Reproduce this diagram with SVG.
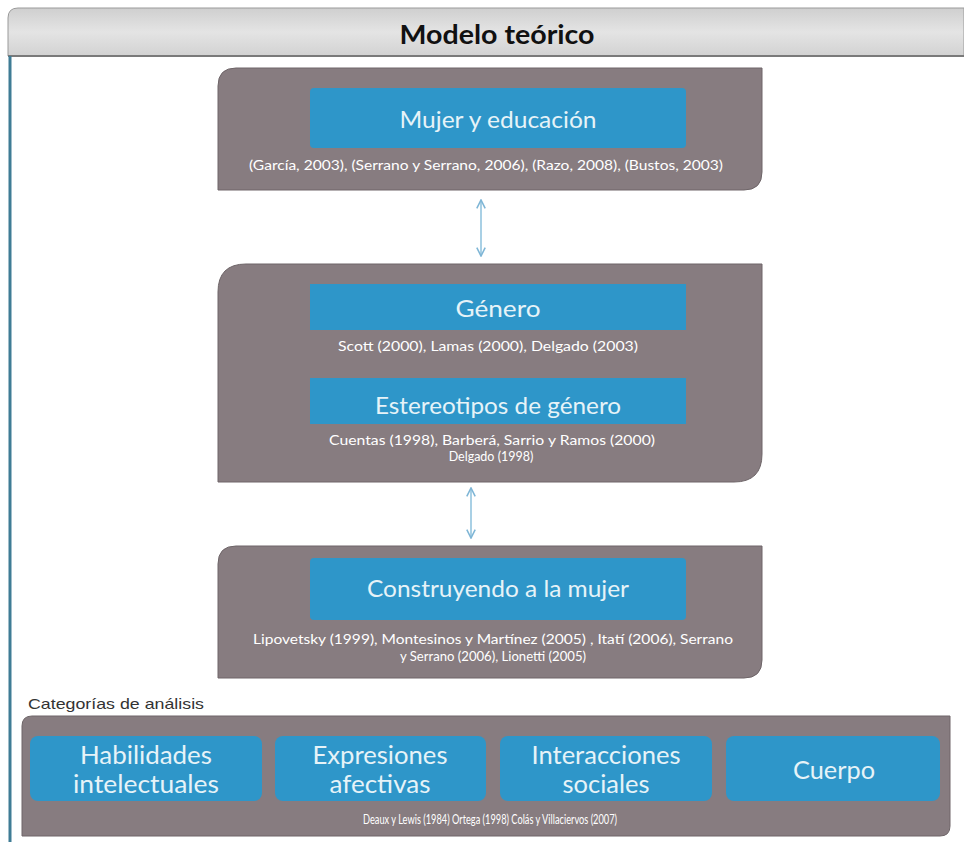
<svg xmlns="http://www.w3.org/2000/svg" width="964" height="860" viewBox="0 0 964 860">
<defs>
<linearGradient id="hdr" x1="0" y1="0" x2="0" y2="1">
<stop offset="0" stop-color="#cfcfcf"/><stop offset="0.5" stop-color="#e4e4e4"/><stop offset="1" stop-color="#d2d2d2"/>
</linearGradient>
<marker id="ah" viewBox="0 0 10 10" refX="9" refY="5" markerWidth="7" markerHeight="7" orient="auto-start-reverse">
<path d="M1,1 L9,5 L1,9" fill="none" stroke="#7fb6d6" stroke-width="1.5"/>
</marker>
<style>
.panel{fill:#877c80;stroke:#6e6568;stroke-width:1}
.blue{fill:#2e96c9}
.t{font-family:Lato,"Open Sans","Liberation Sans",sans-serif;fill:#e6f3f8;text-anchor:middle}
.big{font-size:24px}
.cat{font-size:25px}
.cite{font-family:Lato,"Open Sans","Liberation Sans",sans-serif;fill:#ffffff;text-anchor:middle;font-size:12.5px}
.conn{stroke:#8cc0dd;stroke-width:1.5;fill:none}
</style>
</defs>
<rect x="0" y="0" width="964" height="860" fill="#ffffff"/>
<g id="header">
<path d="M8,56 L8,18 Q8,8 18,8 L964,8 L964,56 Z" fill="url(#hdr)" stroke="#9a9a9a" stroke-width="1"/>
<line x1="8" y1="56" x2="964" y2="56" stroke="#7a7a7a" stroke-width="2"/>
<text x="497" y="44" font-family="Lato,'Open Sans','Liberation Sans',sans-serif" font-weight="bold" font-size="27" fill="#111" text-anchor="middle" textLength="195" lengthAdjust="spacingAndGlyphs">Modelo teórico</text>
</g>
<line x1="10" y1="56" x2="10" y2="842" stroke="#3f7c95" stroke-width="3"/>
<g id="box-mujer-educacion">
<path class="panel" d="M236,68 L762,68 L762,172 Q762,190 744,190 L218,190 L218,86 Q218,68 236,68 Z"/>
<rect class="blue" x="310" y="88" width="376" height="60" rx="4"/>
<text class="t big" x="498" y="128" textLength="197" lengthAdjust="spacingAndGlyphs">Mujer y educación</text>
<text class="cite" x="486" y="170" textLength="474" lengthAdjust="spacingAndGlyphs">(García, 2003), (Serrano y Serrano, 2006), (Razo, 2008), (Bustos, 2003)</text>
</g>
<g id="box-genero">
<path class="panel" d="M246,264 L762,264 L762,454 Q762,482 734,482 L218,482 L218,292 Q218,264 246,264 Z"/>
<rect class="blue" x="310" y="284" width="376" height="46"/>
<text class="t big" x="498" y="317" textLength="85" lengthAdjust="spacingAndGlyphs">Género</text>
<text class="cite" x="488" y="351" textLength="300" lengthAdjust="spacingAndGlyphs">Scott (2000), Lamas (2000), Delgado (2003)</text>
<rect class="blue" x="310" y="378" width="376" height="46"/>
<text class="t big" x="498" y="414" textLength="246" lengthAdjust="spacingAndGlyphs">Estereotipos de género</text>
<text class="cite" x="492" y="445" textLength="326" lengthAdjust="spacingAndGlyphs">Cuentas (1998), Barberá, Sarrio y Ramos (2000)</text>
<text class="cite" x="491" y="461">Delgado (1998)</text>
</g>
<g id="box-construyendo">
<path class="panel" d="M236,546 L762,546 L762,660 Q762,678 744,678 L218,678 L218,564 Q218,546 236,546 Z"/>
<rect class="blue" x="310" y="558" width="376" height="62" rx="4"/>
<text class="t big" x="498" y="597" textLength="262" lengthAdjust="spacingAndGlyphs">Construyendo a la mujer</text>
<text class="cite" x="493" y="644" textLength="480" lengthAdjust="spacingAndGlyphs">Lipovetsky (1999), Montesinos y Martínez (2005) , Itatí (2006), Serrano</text>
<text class="cite" x="493" y="661" textLength="186" lengthAdjust="spacingAndGlyphs">y Serrano (2006), Lionetti (2005)</text>
</g>
<g id="label-categorias">
<text x="28" y="709" font-family="'Liberation Sans',Arial,sans-serif" font-size="15" fill="#333" textLength="176" lengthAdjust="spacingAndGlyphs">Categorías de análisis</text>
</g>
<g id="box-categorias">
<path class="panel" d="M32,716 L950,716 L950,826 Q950,836 940,836 L22,836 L22,726 Q22,716 32,716 Z"/>
<g id="cat-habilidades">
<rect class="blue" x="30" y="736" width="232" height="65" rx="8"/>
<text class="t cat" x="146" y="764" textLength="132" lengthAdjust="spacingAndGlyphs">Habilidades</text>
<text class="t cat" x="146" y="793" textLength="146" lengthAdjust="spacingAndGlyphs">intelectuales</text>
</g>
<g id="cat-expresiones">
<rect class="blue" x="275" y="736" width="211" height="65" rx="8"/>
<text class="t cat" x="380" y="764" textLength="135" lengthAdjust="spacingAndGlyphs">Expresiones</text>
<text class="t cat" x="380" y="793" textLength="101" lengthAdjust="spacingAndGlyphs">afectivas</text>
</g>
<g id="cat-interacciones">
<rect class="blue" x="500" y="736" width="212" height="65" rx="8"/>
<text class="t cat" x="606" y="764" textLength="149" lengthAdjust="spacingAndGlyphs">Interacciones</text>
<text class="t cat" x="606" y="793" textLength="87" lengthAdjust="spacingAndGlyphs">sociales</text>
</g>
<g id="cat-cuerpo">
<rect class="blue" x="726" y="736" width="214" height="65" rx="8"/>
<text class="t cat" x="834" y="779" textLength="82" lengthAdjust="spacingAndGlyphs">Cuerpo</text>
</g>
<text class="cite" x="490" y="824" font-size="10" textLength="254" lengthAdjust="spacingAndGlyphs">Deaux y Lewis (1984) Ortega (1998) Colás y Villaciervos (2007)</text>
</g>
<g id="connectors">
<line class="conn" x1="481" y1="200" x2="481" y2="256" marker-start="url(#ah)" marker-end="url(#ah)"/>
<line class="conn" x1="471" y1="488" x2="471" y2="538" marker-start="url(#ah)" marker-end="url(#ah)"/>
</g>
</svg>
